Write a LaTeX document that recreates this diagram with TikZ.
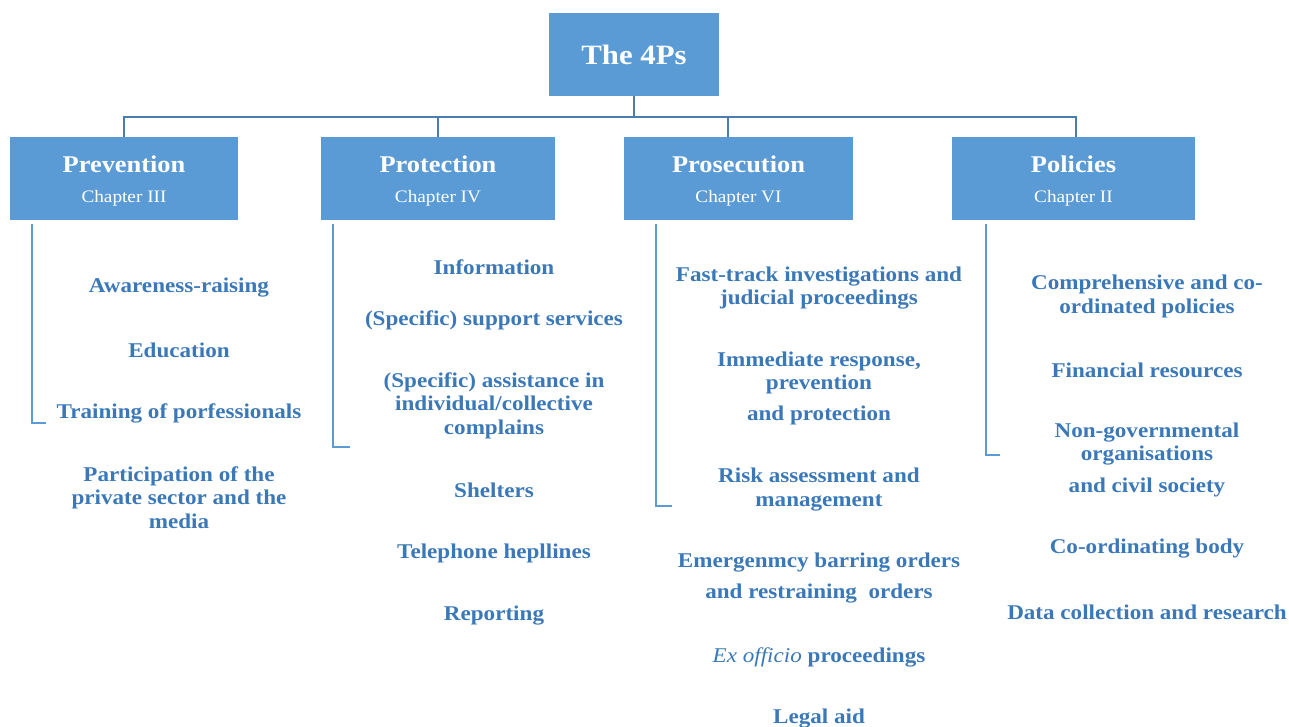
\documentclass[tikz,border=0pt]{standalone}
\usepackage{fontspec}
\setmainfont{Liberation Serif}[FakeStretch=1.1]
\usetikzlibrary{calc}
\definecolor{boxblue}{HTML}{5B9BD5}
\definecolor{txtblue}{HTML}{3B78B8}
\definecolor{linkblue}{HTML}{4A7CAD}
\begin{document}
\begin{tikzpicture}[x=1pt,y=-1pt,
  headbox/.style={fill=boxblue, inner sep=0, minimum height=83pt},
  headtxt/.style={text=white, font=\fontsize{24}{26}\selectfont\bfseries, inner sep=0},
  chaptxt/.style={text=white, font=\fontsize{17.5}{19}\selectfont, inner sep=0},
  item/.style={text=txtblue, font=\fontsize{21}{23.5}\selectfont\bfseries, align=center, inner sep=0},
  tree/.style={draw=linkblue, line width=2.6pt},
  bracket/.style={draw=boxblue, line width=1.8pt}
]
\useasboundingbox (0,0) rectangle (1289,726);

% top of the hierarchy
\node[headbox, minimum width=170pt] (title) at (634,54.5) {};
\node[text=white, font=\fontsize{28}{30}\selectfont\bfseries, inner sep=0] (titletxt) at (title.center) {The 4Ps};

% the four pillars
\node[headbox, minimum width=228pt] (prev) at (124,178.5) {};
\node[headbox, minimum width=234pt] (prot) at (438,178.5) {};
\node[headbox, minimum width=229pt] (pros) at (738.5,178.5) {};
\node[headbox, minimum width=243pt] (pol)  at (1073.5,178.5) {};

\node[headtxt] (prevh) at ($(prev.center)+(0,-14)$) {Prevention};
\node[chaptxt] (prevc) at ($(prev.center)+(0,20)$) {Chapter III};
\node[headtxt] (proth) at ($(prot.center)+(0,-14)$) {Protection};
\node[chaptxt] (protc) at ($(prot.center)+(0,20)$) {Chapter IV};
\node[headtxt] (prosh) at ($(pros.center)+(0,-14)$) {Prosecution};
\node[chaptxt] (prosc) at ($(pros.center)+(0,20)$) {Chapter VI};
\node[headtxt] (polh) at ($(pol.center)+(0,-14)$) {Policies};
\node[chaptxt] (polc) at ($(pol.center)+(0,20)$) {Chapter II};

% tree connectors
\coordinate (bus) at (634,117);
\draw[tree] (title.south) -- (bus);
\draw[tree] (prev.north) |- (bus) -| ($(pol.north)+(2.5,0)$);
\draw[tree] (prot.north) -- (prot.north |- bus);
\draw[tree] ($(pros.north)+(-10.5,0)$) -- ($(pros.north)+(-10.5,-20)$);

% side brackets under each pillar
\draw[bracket] ($(prev.south west)+(22,4)$) |- ($(prev.south west)+(36,203)$);
\draw[bracket] ($(prot.south west)+(12,4)$) |- ($(prot.south west)+(29,227)$);
\draw[bracket] ($(pros.south west)+(32,4)$) |- ($(pros.south west)+(48,286)$);
\draw[bracket] ($(pol.south west)+(34,4)$)  |- ($(pol.south west)+(48,235)$);

% Prevention
\node[item] (pa) at (179,288) {Awareness-raising};
\node[item] (pb) at (179,350) {Education};
\node[item] (pc) at (179,413) {Training of porfessionals};
\node[item] (pd) at (179,497.5) {Participation of the\\private sector and the\\media};

% Protection
\node[item] (ra) at (494,267) {Information};
\node[item] (rb) at (494,320) {(Specific) support services};
\node[item] (rc) at (494,405.5) {(Specific) assistance in\\individual/collective\\complains};
\node[item] (rd) at (494,490) {Shelters};
\node[item] (re) at (494,553) {Telephone hepllines};
\node[item] (rf) at (494,616) {Reporting};

% Prosecution
\node[item] (sa) at (819,288) {Fast-track investigations and\\judicial proceedings};
\node[item] (sb) at (819,388.5) {Immediate response,\\prevention\\[7.5pt]and protection};
\node[item] (sc) at (819,489.5) {Risk assessment and\\management};
\node[item] (sd) at (819,578.5) {Emergenmcy barring orders\\[7.5pt]and restraining\ \ orders};
\node[item] (se) at (819,657) {{\mdseries\itshape Ex officio} proceedings};
\node[item] (sf) at (819,719) {Legal aid};

% Policies
\node[item] (ta) at (1147,296.5) {Comprehensive and co-\\ordinated policies};
\node[item] (tb) at (1147,370) {Financial resources};
\node[item] (tc) at (1147,460) {Non-governmental\\organisations\\[8.5pt]and civil society};
\node[item] (td) at (1147,549) {Co-ordinating body};
\node[item] (te) at (1147,612) {Data collection and research};
\end{tikzpicture}
\end{document}
